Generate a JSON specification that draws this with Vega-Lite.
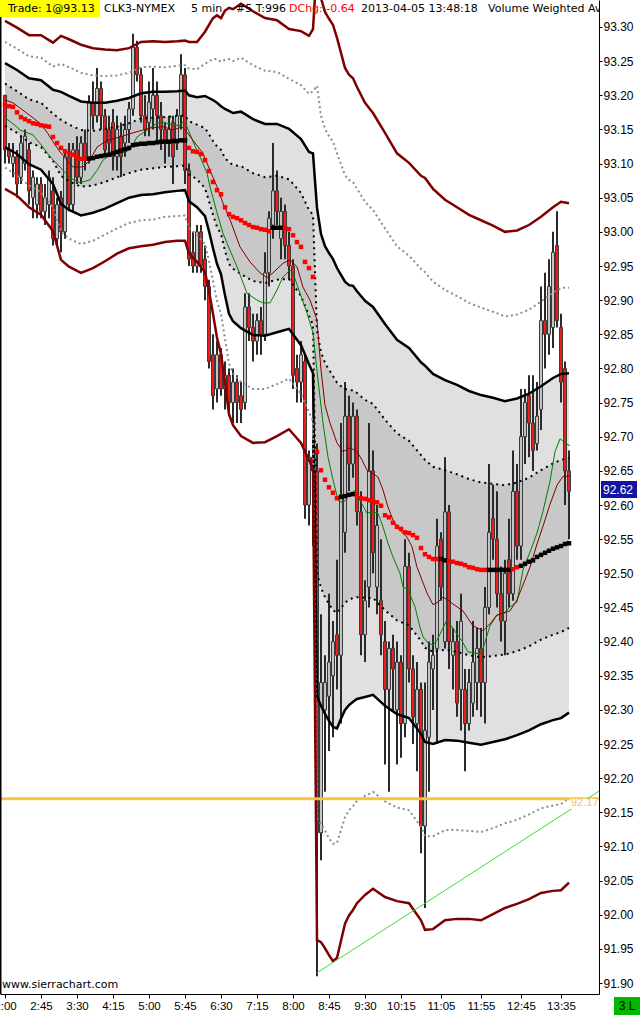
{
"$schema":"https://vega.github.io/schema/vega-lite/v6.json",
"width":599,"height":994,
"autosize":{"type":"none"},
"padding":{"left":0,"top":0,"right":41,"bottom":21},
"background":"#ffffff",
"config":{"view":{"stroke":null},
 "axisY":{"grid":false,"tickSize":3,"tickColor":"#000000","domainColor":"#000000","labelFont":"Liberation Sans","labelFontSize":12,"labelColor":"#000000","labelPadding":1,"labelOverlap":false,"labelFlush":false,"labelBound":false}},
"datasets":{
"bars":[
{"i":0,"o":93.20,"h":93.20,"l":93.10,"c":93.12,"v":93.186,"k":"r"},
{"i":1,"o":93.12,"h":93.13,"l":93.10,"c":93.11,"v":93.184,"k":"r"},
{"i":2,"o":93.10,"h":93.13,"l":93.08,"c":93.11,"v":93.183,"k":"r"},
{"i":3,"o":93.11,"h":93.12,"l":93.05,"c":93.07,"v":93.175,"k":"r"},
{"i":4,"o":93.08,"h":93.14,"l":93.07,"c":93.13,"v":93.168,"k":"r"},
{"i":5,"o":93.10,"h":93.15,"l":93.09,"c":93.14,"v":93.165,"k":"r"},
{"i":6,"o":93.12,"h":93.13,"l":93.04,"c":93.06,"v":93.162,"k":"r"},
{"i":7,"o":93.05,"h":93.09,"l":93.02,"c":93.08,"v":93.159,"k":"r"},
{"i":8,"o":93.04,"h":93.08,"l":93.02,"c":93.07,"v":93.158,"k":"r"},
{"i":9,"o":93.07,"h":93.08,"l":93.02,"c":93.03,"v":93.156,"k":"r"},
{"i":10,"o":93.03,"h":93.07,"l":93.01,"c":93.05,"v":93.155,"k":"r"},
{"i":11,"o":93.04,"h":93.09,"l":93.02,"c":93.08,"v":93.154,"k":"r"},
{"i":12,"o":93.06,"h":93.08,"l":92.98,"c":92.99,"v":93.139,"k":"r"},
{"i":13,"o":92.99,"h":93.05,"l":92.98,"c":93.04,"v":93.130,"k":"r"},
{"i":14,"o":93.05,"h":93.06,"l":92.97,"c":93.00,"v":93.123,"k":"r"},
{"i":15,"o":93.00,"h":93.12,"l":92.99,"c":93.11,"v":93.118,"k":"r"},
{"i":16,"o":93.11,"h":93.13,"l":93.03,"c":93.04,"v":93.115,"k":"r"},
{"i":17,"o":93.04,"h":93.13,"l":93.03,"c":93.12,"v":93.113,"k":"r"},
{"i":18,"o":93.12,"h":93.14,"l":93.07,"c":93.08,"v":93.108,"k":"r"},
{"i":19,"o":93.08,"h":93.14,"l":93.07,"c":93.13,"v":93.107,"k":"r"},
{"i":20,"o":93.13,"h":93.15,"l":93.09,"c":93.11,"v":93.107,"k":"r"},
{"i":21,"o":93.11,"h":93.20,"l":93.10,"c":93.19,"v":93.107,"k":"b"},
{"i":22,"o":93.19,"h":93.22,"l":93.15,"c":93.17,"v":93.108,"k":"b"},
{"i":23,"o":93.17,"h":93.24,"l":93.16,"c":93.21,"v":93.110,"k":"b"},
{"i":24,"o":93.21,"h":93.22,"l":93.15,"c":93.17,"v":93.111,"k":"b"},
{"i":25,"o":93.17,"h":93.18,"l":93.11,"c":93.12,"v":93.112,"k":"b"},
{"i":26,"o":93.15,"h":93.17,"l":93.11,"c":93.13,"v":93.113,"k":"b"},
{"i":27,"o":93.16,"h":93.18,"l":93.09,"c":93.11,"v":93.115,"k":"b"},
{"i":28,"o":93.11,"h":93.17,"l":93.09,"c":93.15,"v":93.117,"k":"b"},
{"i":29,"o":93.14,"h":93.16,"l":93.08,"c":93.11,"v":93.119,"k":"b"},
{"i":30,"o":93.13,"h":93.17,"l":93.11,"c":93.15,"v":93.121,"k":"b"},
{"i":31,"o":93.15,"h":93.19,"l":93.13,"c":93.18,"v":93.123,"k":"b"},
{"i":32,"o":93.18,"h":93.29,"l":93.17,"c":93.27,"v":93.127,"k":"b"},
{"i":33,"o":93.27,"h":93.28,"l":93.22,"c":93.23,"v":93.128,"k":"b"},
{"i":34,"o":93.23,"h":93.24,"l":93.16,"c":93.17,"v":93.129,"k":"b"},
{"i":35,"o":93.17,"h":93.20,"l":93.14,"c":93.15,"v":93.129,"k":"b"},
{"i":36,"o":93.16,"h":93.22,"l":93.14,"c":93.19,"v":93.130,"k":"b"},
{"i":37,"o":93.18,"h":93.24,"l":93.15,"c":93.20,"v":93.130,"k":"b"},
{"i":38,"o":93.20,"h":93.22,"l":93.13,"c":93.17,"v":93.131,"k":"b"},
{"i":39,"o":93.17,"h":93.19,"l":93.12,"c":93.15,"v":93.132,"k":"b"},
{"i":40,"o":93.15,"h":93.16,"l":93.10,"c":93.13,"v":93.132,"k":"b"},
{"i":41,"o":93.13,"h":93.17,"l":93.11,"c":93.15,"v":93.132,"k":"b"},
{"i":42,"o":93.16,"h":93.17,"l":93.07,"c":93.11,"v":93.133,"k":"b"},
{"i":43,"o":93.13,"h":93.18,"l":93.12,"c":93.17,"v":93.133,"k":"b"},
{"i":44,"o":93.17,"h":93.26,"l":93.15,"c":93.23,"v":93.134,"k":"b"},
{"i":45,"o":93.23,"h":93.24,"l":93.07,"c":93.09,"v":93.134,"k":"b"},
{"i":46,"o":93.09,"h":93.10,"l":92.95,"c":92.96,"v":93.123,"k":"r"},
{"i":47,"o":92.97,"h":93.00,"l":92.94,"c":92.95,"v":93.118,"k":"r"},
{"i":48,"o":92.95,"h":93.01,"l":92.94,"c":93.00,"v":93.117,"k":"r"},
{"i":49,"o":93.00,"h":93.01,"l":92.94,"c":92.95,"v":93.114,"k":"r"},
{"i":50,"o":92.96,"h":92.98,"l":92.90,"c":92.92,"v":93.105,"k":"r"},
{"i":51,"o":92.92,"h":92.93,"l":92.80,"c":92.81,"v":93.089,"k":"r"},
{"i":52,"o":92.82,"h":92.85,"l":92.74,"c":92.76,"v":93.073,"k":"r"},
{"i":53,"o":92.77,"h":92.84,"l":92.75,"c":92.82,"v":93.061,"k":"r"},
{"i":54,"o":92.82,"h":92.83,"l":92.76,"c":92.77,"v":93.055,"k":"r"},
{"i":55,"o":92.77,"h":92.81,"l":92.74,"c":92.79,"v":93.036,"k":"r"},
{"i":56,"o":92.79,"h":92.80,"l":92.73,"c":92.75,"v":93.026,"k":"r"},
{"i":57,"o":92.75,"h":92.80,"l":92.72,"c":92.78,"v":93.022,"k":"r"},
{"i":58,"o":92.78,"h":92.79,"l":92.72,"c":92.75,"v":93.020,"k":"r"},
{"i":59,"o":92.76,"h":92.78,"l":92.72,"c":92.74,"v":93.017,"k":"r"},
{"i":60,"o":92.75,"h":92.91,"l":92.74,"c":92.89,"v":93.013,"k":"r"},
{"i":61,"o":92.89,"h":92.91,"l":92.84,"c":92.86,"v":93.010,"k":"r"},
{"i":62,"o":92.86,"h":92.88,"l":92.81,"c":92.84,"v":93.007,"k":"r"},
{"i":63,"o":92.84,"h":92.88,"l":92.82,"c":92.87,"v":93.006,"k":"r"},
{"i":64,"o":92.87,"h":92.89,"l":92.82,"c":92.85,"v":93.004,"k":"r"},
{"i":65,"o":92.85,"h":92.97,"l":92.84,"c":92.94,"v":93.003,"k":"r"},
{"i":66,"o":92.94,"h":93.03,"l":92.92,"c":93.02,"v":93.001,"k":"r"},
{"i":67,"o":93.01,"h":93.13,"l":92.99,"c":93.06,"v":93.006,"k":"b"},
{"i":68,"o":93.06,"h":93.09,"l":93.01,"c":93.03,"v":93.006,"k":"b"},
{"i":69,"o":92.99,"h":93.05,"l":92.96,"c":93.03,"v":93.006,"k":"b"},
{"i":70,"o":93.03,"h":93.04,"l":92.96,"c":92.98,"v":93.006,"k":"r"},
{"i":71,"o":92.98,"h":93.00,"l":92.93,"c":92.95,"v":93.004,"k":"r"},
{"i":72,"o":92.95,"h":92.96,"l":92.77,"c":92.79,"v":92.995,"k":"r"},
{"i":73,"o":92.80,"h":92.82,"l":92.75,"c":92.78,"v":92.985,"k":"r"},
{"i":74,"o":92.78,"h":92.84,"l":92.75,"c":92.82,"v":92.978,"k":"r"},
{"i":75,"o":92.81,"h":92.82,"l":92.58,"c":92.60,"v":92.956,"k":"r"},
{"i":76,"o":92.60,"h":92.68,"l":92.57,"c":92.67,"v":92.947,"k":"r"},
{"i":77,"o":92.67,"h":92.70,"l":92.54,"c":92.65,"v":92.934,"k":"r"},
{"i":78,"o":92.65,"h":92.69,"l":91.91,"c":92.12,"v":92.678,"k":"r"},
{"i":79,"o":92.12,"h":92.44,"l":92.08,"c":92.34,"v":92.651,"k":"r"},
{"i":80,"o":92.30,"h":92.38,"l":92.18,"c":92.34,"v":92.637,"k":"r"},
{"i":81,"o":92.32,"h":92.47,"l":92.24,"c":92.37,"v":92.626,"k":"r"},
{"i":82,"o":92.35,"h":92.43,"l":92.26,"c":92.40,"v":92.618,"k":"r"},
{"i":83,"o":92.41,"h":92.52,"l":92.33,"c":92.38,"v":92.610,"k":"r"},
{"i":84,"o":92.38,"h":92.72,"l":92.28,"c":92.61,"v":92.612,"k":"b"},
{"i":85,"o":92.56,"h":92.78,"l":92.53,"c":92.73,"v":92.613,"k":"b"},
{"i":86,"o":92.73,"h":92.76,"l":92.62,"c":92.66,"v":92.615,"k":"b"},
{"i":87,"o":92.66,"h":92.75,"l":92.64,"c":92.73,"v":92.616,"k":"b"},
{"i":88,"o":92.73,"h":92.74,"l":92.57,"c":92.59,"v":92.615,"k":"r"},
{"i":89,"o":92.59,"h":92.62,"l":92.38,"c":92.41,"v":92.610,"k":"r"},
{"i":90,"o":92.41,"h":92.49,"l":92.37,"c":92.46,"v":92.609,"k":"r"},
{"i":91,"o":92.48,"h":92.72,"l":92.45,"c":92.65,"v":92.607,"k":"r"},
{"i":92,"o":92.65,"h":92.68,"l":92.50,"c":92.53,"v":92.606,"k":"r"},
{"i":93,"o":92.48,"h":92.60,"l":92.44,"c":92.57,"v":92.604,"k":"r"},
{"i":94,"o":92.46,"h":92.55,"l":92.38,"c":92.41,"v":92.599,"k":"r"},
{"i":95,"o":92.40,"h":92.43,"l":92.22,"c":92.33,"v":92.585,"k":"r"},
{"i":96,"o":92.33,"h":92.40,"l":92.18,"c":92.39,"v":92.582,"k":"r"},
{"i":97,"o":92.39,"h":92.41,"l":92.30,"c":92.36,"v":92.574,"k":"r"},
{"i":98,"o":92.30,"h":92.40,"l":92.22,"c":92.37,"v":92.568,"k":"r"},
{"i":99,"o":92.37,"h":92.38,"l":92.23,"c":92.28,"v":92.565,"k":"r"},
{"i":100,"o":92.28,"h":92.55,"l":92.26,"c":92.51,"v":92.560,"k":"r"},
{"i":101,"o":92.51,"h":92.53,"l":92.34,"c":92.36,"v":92.559,"k":"r"},
{"i":102,"o":92.36,"h":92.38,"l":92.25,"c":92.29,"v":92.556,"k":"r"},
{"i":103,"o":92.28,"h":92.37,"l":92.21,"c":92.33,"v":92.552,"k":"r"},
{"i":104,"o":92.33,"h":92.34,"l":92.09,"c":92.13,"v":92.537,"k":"r"},
{"i":105,"o":92.13,"h":92.34,"l":92.01,"c":92.27,"v":92.528,"k":"r"},
{"i":106,"o":92.26,"h":92.40,"l":92.18,"c":92.37,"v":92.524,"k":"r"},
{"i":107,"o":92.36,"h":92.41,"l":92.30,"c":92.38,"v":92.521,"k":"r"},
{"i":108,"o":92.39,"h":92.58,"l":92.25,"c":92.54,"v":92.521,"k":"r"},
{"i":109,"o":92.55,"h":92.56,"l":92.46,"c":92.48,"v":92.521,"k":"b"},
{"i":110,"o":92.40,"h":92.67,"l":92.39,"c":92.59,"v":92.519,"k":"b"},
{"i":111,"o":92.59,"h":92.60,"l":92.36,"c":92.40,"v":92.518,"k":"r"},
{"i":112,"o":92.38,"h":92.42,"l":92.33,"c":92.40,"v":92.517,"k":"r"},
{"i":113,"o":92.40,"h":92.43,"l":92.29,"c":92.31,"v":92.515,"k":"r"},
{"i":114,"o":92.33,"h":92.47,"l":92.27,"c":92.43,"v":92.514,"k":"r"},
{"i":115,"o":92.33,"h":92.36,"l":92.21,"c":92.28,"v":92.512,"k":"r"},
{"i":116,"o":92.28,"h":92.36,"l":92.27,"c":92.34,"v":92.509,"k":"r"},
{"i":117,"o":92.31,"h":92.43,"l":92.29,"c":92.37,"v":92.508,"k":"r"},
{"i":118,"o":92.34,"h":92.42,"l":92.30,"c":92.39,"v":92.506,"k":"r"},
{"i":119,"o":92.39,"h":92.42,"l":92.29,"c":92.34,"v":92.505,"k":"r"},
{"i":120,"o":92.34,"h":92.48,"l":92.28,"c":92.45,"v":92.505,"k":"r"},
{"i":121,"o":92.45,"h":92.66,"l":92.44,"c":92.56,"v":92.505,"k":"b"},
{"i":122,"o":92.58,"h":92.63,"l":92.52,"c":92.55,"v":92.505,"k":"b"},
{"i":123,"o":92.55,"h":92.62,"l":92.45,"c":92.47,"v":92.505,"k":"b"},
{"i":124,"o":92.47,"h":92.51,"l":92.40,"c":92.43,"v":92.505,"k":"b"},
{"i":125,"o":92.43,"h":92.52,"l":92.38,"c":92.50,"v":92.505,"k":"b"},
{"i":126,"o":92.52,"h":92.58,"l":92.45,"c":92.47,"v":92.505,"k":"b"},
{"i":127,"o":92.47,"h":92.68,"l":92.46,"c":92.62,"v":92.506,"k":"r"},
{"i":128,"o":92.62,"h":92.66,"l":92.52,"c":92.54,"v":92.509,"k":"r"},
{"i":129,"o":92.54,"h":92.77,"l":92.52,"c":92.70,"v":92.511,"k":"b"},
{"i":130,"o":92.70,"h":92.77,"l":92.66,"c":92.75,"v":92.514,"k":"b"},
{"i":131,"o":92.76,"h":92.79,"l":92.67,"c":92.72,"v":92.517,"k":"b"},
{"i":132,"o":92.72,"h":92.79,"l":92.65,"c":92.68,"v":92.519,"k":"b"},
{"i":133,"o":92.69,"h":92.78,"l":92.68,"c":92.73,"v":92.524,"k":"b"},
{"i":134,"o":92.74,"h":92.92,"l":92.71,"c":92.87,"v":92.527,"k":"b"},
{"i":135,"o":92.87,"h":92.94,"l":92.80,"c":92.85,"v":92.530,"k":"b"},
{"i":136,"o":92.85,"h":92.96,"l":92.82,"c":92.92,"v":92.533,"k":"b"},
{"i":137,"o":92.86,"h":93.00,"l":92.83,"c":92.97,"v":92.536,"k":"b"},
{"i":138,"o":92.98,"h":93.03,"l":92.86,"c":92.87,"v":92.538,"k":"b"},
{"i":139,"o":92.86,"h":92.88,"l":92.75,"c":92.78,"v":92.540,"k":"b"},
{"i":140,"o":92.80,"h":92.81,"l":92.60,"c":92.65,"v":92.543,"k":"b"},
{"i":141,"o":92.65,"h":92.68,"l":92.55,"c":92.62,"v":92.544,"k":"b"}
],
"bands":[
{"i":0,"u4":93.309,"u3":93.278,"u2":93.247,"u1":93.217,"l1":93.155,"l2":93.124,"l3":93.094,"l4":93.063},
{"i":3,"u4":93.299,"u3":93.268,"u2":93.237,"u1":93.206,"l1":93.145,"l2":93.114,"l3":93.083,"l4":93.053},
{"i":6,"u4":93.288,"u3":93.257,"u2":93.225,"u1":93.194,"l1":93.131,"l2":93.099,"l3":93.068,"l4":93.036},
{"i":9,"u4":93.288,"u3":93.255,"u2":93.222,"u1":93.189,"l1":93.124,"l2":93.091,"l3":93.058,"l4":93.025},
{"i":12,"u4":93.277,"u3":93.242,"u2":93.208,"u1":93.173,"l1":93.104,"l2":93.070,"l3":93.036,"l4":93.001},
{"i":14,"u4":93.287,"u3":93.246,"u2":93.205,"u1":93.164,"l1":93.082,"l2":93.041,"l3":93.000,"l4":92.959},
{"i":16,"u4":93.282,"u3":93.241,"u2":93.199,"u1":93.157,"l1":93.074,"l2":93.032,"l3":92.990,"l4":92.949},
{"i":19,"u4":93.274,"u3":93.233,"u2":93.191,"u1":93.149,"l1":93.066,"l2":93.024,"l3":92.982,"l4":92.940},
{"i":22,"u4":93.269,"u3":93.229,"u2":93.189,"u1":93.148,"l1":93.068,"l2":93.028,"l3":92.987,"l4":92.947},
{"i":25,"u4":93.267,"u3":93.228,"u2":93.189,"u1":93.151,"l1":93.073,"l2":93.034,"l3":92.996,"l4":92.957},
{"i":28,"u4":93.266,"u3":93.229,"u2":93.192,"u1":93.154,"l1":93.080,"l2":93.042,"l3":93.005,"l4":92.968},
{"i":31,"u4":93.269,"u3":93.233,"u2":93.196,"u1":93.159,"l1":93.086,"l2":93.050,"l3":93.013,"l4":92.976},
{"i":34,"u4":93.278,"u3":93.241,"u2":93.203,"u1":93.166,"l1":93.091,"l2":93.054,"l3":93.017,"l4":92.979},
{"i":37,"u4":93.279,"u3":93.242,"u2":93.205,"u1":93.167,"l1":93.093,"l2":93.055,"l3":93.018,"l4":92.981},
{"i":40,"u4":93.278,"u3":93.241,"u2":93.205,"u1":93.168,"l1":93.095,"l2":93.058,"l3":93.022,"l4":92.985},
{"i":43,"u4":93.279,"u3":93.243,"u2":93.206,"u1":93.170,"l1":93.096,"l2":93.060,"l3":93.023,"l4":92.987},
{"i":45,"u4":93.280,"u3":93.244,"u2":93.207,"u1":93.170,"l1":93.097,"l2":93.061,"l3":93.024,"l4":92.987},
{"i":46,"u4":93.278,"u3":93.239,"u2":93.200,"u1":93.162,"l1":93.084,"l2":93.045,"l3":93.006,"l4":92.968},
{"i":48,"u4":93.278,"u3":93.238,"u2":93.197,"u1":93.157,"l1":93.077,"l2":93.036,"l3":92.996,"l4":92.956},
{"i":50,"u4":93.293,"u3":93.246,"u2":93.199,"u1":93.152,"l1":93.064,"l2":93.023,"l3":92.982,"l4":92.941},
{"i":51,"u4":93.303,"u3":93.250,"u2":93.196,"u1":93.143,"l1":93.045,"l2":93.001,"l3":92.957,"l4":92.913},
{"i":52,"u4":93.313,"u3":93.253,"u2":93.193,"u1":93.133,"l1":93.025,"l2":92.976,"l3":92.928,"l4":92.880},
{"i":53,"u4":93.317,"u3":93.253,"u2":93.189,"u1":93.125,"l1":93.007,"l2":92.953,"l3":92.899,"l4":92.845},
{"i":54,"u4":93.313,"u3":93.249,"u2":93.184,"u1":93.120,"l1":92.997,"l2":92.938,"l3":92.880,"l4":92.821},
{"i":55,"u4":93.324,"u3":93.252,"u2":93.180,"u1":93.108,"l1":92.972,"l2":92.907,"l3":92.843,"l4":92.779},
{"i":56,"u4":93.328,"u3":93.253,"u2":93.177,"u1":93.102,"l1":92.953,"l2":92.880,"l3":92.807,"l4":92.733},
{"i":57,"u4":93.326,"u3":93.250,"u2":93.174,"u1":93.098,"l1":92.946,"l2":92.869,"l3":92.793,"l4":92.717},
{"i":59,"u4":93.334,"u3":93.255,"u2":93.176,"u1":93.096,"l1":92.938,"l2":92.859,"l3":92.780,"l4":92.701},
{"i":62,"u4":93.323,"u3":93.244,"u2":93.165,"u1":93.086,"l1":92.928,"l2":92.849,"l3":92.770,"l4":92.691},
{"i":65,"u4":93.313,"u3":93.236,"u2":93.158,"u1":93.080,"l1":92.925,"l2":92.848,"l3":92.770,"l4":92.692},
{"i":68,"u4":93.310,"u3":93.234,"u2":93.158,"u1":93.082,"l1":92.930,"l2":92.853,"l3":92.777,"l4":92.701},
{"i":71,"u4":93.297,"u3":93.224,"u2":93.151,"u1":93.077,"l1":92.931,"l2":92.858,"l3":92.785,"l4":92.711},
{"i":74,"u4":93.294,"u3":93.215,"u2":93.136,"u1":93.057,"l1":92.906,"l2":92.834,"l3":92.763,"l4":92.691},
{"i":76,"u4":93.287,"u3":93.202,"u2":93.117,"u1":93.032,"l1":92.877,"l2":92.806,"l3":92.736,"l4":92.666},
{"i":77,"u4":93.297,"u3":93.206,"u2":93.115,"u1":93.025,"l1":92.864,"l2":92.793,"l3":92.723,"l4":92.653},
{"i":78,"u4":93.392,"u3":93.214,"u2":93.035,"u1":92.856,"l1":92.499,"l2":92.320,"l3":92.142,"l4":91.963},
{"i":79,"u4":93.342,"u3":93.170,"u2":92.997,"u1":92.824,"l1":92.479,"l2":92.306,"l3":92.133,"l4":91.960},
{"i":80,"u4":93.322,"u3":93.151,"u2":92.979,"u1":92.808,"l1":92.465,"l2":92.294,"l3":92.123,"l4":91.951},
{"i":81,"u4":93.312,"u3":93.140,"u2":92.969,"u1":92.798,"l1":92.455,"l2":92.284,"l3":92.112,"l4":91.941},
{"i":82,"u4":93.303,"u3":93.132,"u2":92.960,"u1":92.789,"l1":92.446,"l2":92.275,"l3":92.104,"l4":91.932},
{"i":83,"u4":93.284,"u3":93.115,"u2":92.947,"u1":92.779,"l1":92.442,"l2":92.273,"l3":92.105,"l4":91.937},
{"i":84,"u4":93.262,"u3":93.099,"u2":92.937,"u1":92.774,"l1":92.449,"l2":92.287,"l3":92.124,"l4":91.962},
{"i":85,"u4":93.240,"u3":93.083,"u2":92.927,"u1":92.770,"l1":92.457,"l2":92.300,"l3":92.143,"l4":91.987},
{"i":86,"u4":93.230,"u3":93.076,"u2":92.922,"u1":92.768,"l1":92.461,"l2":92.307,"l3":92.153,"l4":91.999},
{"i":87,"u4":93.225,"u3":93.073,"u2":92.921,"u1":92.768,"l1":92.464,"l2":92.312,"l3":92.159,"l4":92.007},
{"i":88,"u4":93.212,"u3":93.063,"u2":92.913,"u1":92.764,"l1":92.465,"l2":92.316,"l3":92.167,"l4":92.017},
{"i":90,"u4":93.189,"u3":93.044,"u2":92.899,"u1":92.754,"l1":92.464,"l2":92.319,"l3":92.174,"l4":92.029},
{"i":92,"u4":93.174,"u3":93.032,"u2":92.890,"u1":92.748,"l1":92.464,"l2":92.322,"l3":92.180,"l4":92.038},
{"i":95,"u4":93.145,"u3":93.005,"u2":92.865,"u1":92.725,"l1":92.446,"l2":92.306,"l3":92.166,"l4":92.026},
{"i":98,"u4":93.115,"u3":92.979,"u2":92.842,"u1":92.705,"l1":92.431,"l2":92.294,"l3":92.157,"l4":92.020},
{"i":101,"u4":93.101,"u3":92.965,"u2":92.830,"u1":92.694,"l1":92.424,"l2":92.288,"l3":92.153,"l4":92.017},
{"i":104,"u4":93.082,"u3":92.946,"u2":92.809,"u1":92.673,"l1":92.401,"l2":92.265,"l3":92.129,"l4":91.992},
{"i":105,"u4":93.079,"u3":92.941,"u2":92.804,"u1":92.666,"l1":92.391,"l2":92.253,"l3":92.115,"l4":91.978},
{"i":107,"u4":93.063,"u3":92.927,"u2":92.792,"u1":92.656,"l1":92.385,"l2":92.250,"l3":92.115,"l4":91.979},
{"i":110,"u4":93.047,"u3":92.915,"u2":92.783,"u1":92.651,"l1":92.388,"l2":92.256,"l3":92.124,"l4":91.992},
{"i":113,"u4":93.036,"u3":92.906,"u2":92.776,"u1":92.645,"l1":92.385,"l2":92.255,"l3":92.124,"l4":91.994},
{"i":116,"u4":93.025,"u3":92.896,"u2":92.767,"u1":92.638,"l1":92.380,"l2":92.252,"l3":92.123,"l4":91.994},
{"i":119,"u4":93.017,"u3":92.889,"u2":92.761,"u1":92.633,"l1":92.377,"l2":92.249,"l3":92.121,"l4":91.992},
{"i":122,"u4":93.009,"u3":92.883,"u2":92.757,"u1":92.631,"l1":92.379,"l2":92.253,"l3":92.127,"l4":92.001},
{"i":125,"u4":93.000,"u3":92.876,"u2":92.752,"u1":92.629,"l1":92.381,"l2":92.257,"l3":92.134,"l4":92.010},
{"i":128,"u4":93.002,"u3":92.879,"u2":92.756,"u1":92.633,"l1":92.386,"l2":92.263,"l3":92.139,"l4":92.016},
{"i":131,"u4":93.010,"u3":92.886,"u2":92.763,"u1":92.640,"l1":92.393,"l2":92.270,"l3":92.147,"l4":92.023},
{"i":134,"u4":93.022,"u3":92.898,"u2":92.774,"u1":92.651,"l1":92.403,"l2":92.279,"l3":92.156,"l4":92.032},
{"i":137,"u4":93.036,"u3":92.911,"u2":92.786,"u1":92.661,"l1":92.410,"l2":92.285,"l3":92.160,"l4":92.035},
{"i":139,"u4":93.044,"u3":92.918,"u2":92.792,"u1":92.666,"l1":92.414,"l2":92.288,"l3":92.162,"l4":92.036},
{"i":141,"u4":93.042,"u3":92.918,"u2":92.793,"u1":92.669,"l1":92.420,"l2":92.296,"l3":92.171,"l4":92.047}
],
"mag":[
{"i":0,"p":93.167},{"i":2.5,"p":93.156},{"i":3.75,"p":93.149},{"i":7,"p":93.142},{"i":9.5,"p":93.124},{"i":11.25,"p":93.110},{"i":13.75,"p":93.095},{"i":16.25,"p":93.079},{"i":18.75,"p":93.072},{"i":21.25,"p":93.076},{"i":23,"p":93.090},{"i":24.5,"p":93.105},{"i":26.25,"p":93.113},{"i":28.75,"p":93.115},{"i":31.25,"p":93.120},{"i":33,"p":93.139},{"i":35.5,"p":93.149},{"i":38,"p":93.159},{"i":39.5,"p":93.161},{"i":42,"p":93.156},{"i":43.75,"p":93.156},{"i":44.5,"p":93.161},{"i":45.5,"p":93.154},{"i":47,"p":93.132},{"i":48.75,"p":93.110},{"i":50.5,"p":93.086},{"i":51.25,"p":93.066},{"i":53,"p":93.028},{"i":54.5,"p":92.998},{"i":56.25,"p":92.973},{"i":58,"p":92.949},{"i":60.5,"p":92.910},{"i":63,"p":92.900},{"i":64.5,"p":92.896},{"i":66.25,"p":92.896},{"i":68,"p":92.915},{"i":69.5,"p":92.934},{"i":71.25,"p":92.944},{"i":72,"p":92.940},{"i":73.75,"p":92.910},{"i":75.5,"p":92.881},{"i":77,"p":92.852},{"i":78.25,"p":92.783},{"i":79.5,"p":92.720},{"i":80.75,"p":92.670},{"i":82,"p":92.637},{"i":83.25,"p":92.607},{"i":84.5,"p":92.603},{"i":86.25,"p":92.615},{"i":87.5,"p":92.622},{"i":88.75,"p":92.607},{"i":90.5,"p":92.588},{"i":91.75,"p":92.590},{"i":93.25,"p":92.588},{"i":94.5,"p":92.568},{"i":95.75,"p":92.544},{"i":97,"p":92.524},{"i":98.75,"p":92.500},{"i":99.5,"p":92.480},{"i":100.75,"p":92.476},{"i":102.5,"p":92.451},{"i":103.75,"p":92.421},{"i":104.5,"p":92.407},{"i":105.75,"p":92.398},{"i":107,"p":92.395},{"i":108,"p":92.402},{"i":110.5,"p":92.432},{"i":112.5,"p":92.415},{"i":114.25,"p":92.401},{"i":115.75,"p":92.385},{"i":118.75,"p":92.382},{"i":119.5,"p":92.390},{"i":121.25,"p":92.423},{"i":123,"p":92.439},{"i":124.5,"p":92.439},{"i":126.25,"p":92.451},{"i":128,"p":92.458},{"i":129.5,"p":92.505},{"i":131.25,"p":92.531},{"i":133,"p":92.559},{"i":134.5,"p":92.591},{"i":136.25,"p":92.635},{"i":137.5,"p":92.678},{"i":138.75,"p":92.697},{"i":140.5,"p":92.689},{"i":141.25,"p":92.687}
],
"mar":[
{"i":0,"p":93.193},{"i":2,"p":93.189},{"i":4.5,"p":93.178},{"i":7,"p":93.167},{"i":8.75,"p":93.159},{"i":10.5,"p":93.146},{"i":12,"p":93.132},{"i":13.75,"p":93.117},{"i":15.5,"p":93.105},{"i":17,"p":93.095},{"i":19.5,"p":93.095},{"i":21.25,"p":93.105},{"i":23,"p":93.124},{"i":25.5,"p":93.134},{"i":28.75,"p":93.139},{"i":32,"p":93.145},{"i":36.25,"p":93.152},{"i":39.5,"p":93.154},{"i":42,"p":93.149},{"i":44.25,"p":93.154},{"i":45.5,"p":93.146},{"i":47,"p":93.134},{"i":49.5,"p":93.115},{"i":51.25,"p":93.090},{"i":53,"p":93.066},{"i":54.5,"p":93.042},{"i":56.25,"p":93.018},{"i":58.75,"p":92.978},{"i":61.25,"p":92.956},{"i":63.75,"p":92.940},{"i":65.5,"p":92.933},{"i":67,"p":92.940},{"i":69.5,"p":92.954},{"i":71.25,"p":92.959},{"i":73,"p":92.949},{"i":74.5,"p":92.919},{"i":76.25,"p":92.900},{"i":78,"p":92.871},{"i":79,"p":92.798},{"i":80,"p":92.746},{"i":81.25,"p":92.720},{"i":83,"p":92.691},{"i":84.5,"p":92.678},{"i":86.25,"p":92.684},{"i":88,"p":92.678},{"i":89.25,"p":92.666},{"i":90.5,"p":92.651},{"i":91.75,"p":92.647},{"i":93.25,"p":92.641},{"i":94.5,"p":92.622},{"i":95.75,"p":92.597},{"i":97,"p":92.578},{"i":98.75,"p":92.563},{"i":100.5,"p":92.553},{"i":101.75,"p":92.539},{"i":103,"p":92.509},{"i":104.25,"p":92.490},{"i":105.5,"p":92.471},{"i":107,"p":92.454},{"i":108.25,"p":92.458},{"i":109.5,"p":92.465},{"i":110.75,"p":92.461},{"i":112,"p":92.455},{"i":114.5,"p":92.445},{"i":117,"p":92.423},{"i":119.5,"p":92.416},{"i":121.25,"p":92.426},{"i":123,"p":92.439},{"i":124.5,"p":92.442},{"i":126.25,"p":92.445},{"i":128,"p":92.461},{"i":129.5,"p":92.483},{"i":131.25,"p":92.509},{"i":133,"p":92.543},{"i":134.5,"p":92.569},{"i":136.25,"p":92.601},{"i":138,"p":92.629},{"i":139.5,"p":92.642},{"i":141.25,"p":92.642}
]
},
"encoding":{"x":{"field":"i","type":"quantitative","scale":{"domain":[-1.25,148.5],"nice":false,"zero":false,"padding":0},
 "axis":{"values":[0,9,18,27,36,45,54,63,72,81,90,99,109,119,129,139],
 "labelExpr":"['2:00','2:45','3:30','4:15','5:00','5:45','6:30','7:15','8:00','8:45','9:30','10:15','11:05','11:55','12:45','13:35'][indexof([0,9,18,27,36,45,54,63,72,81,90,99,109,119,129,139], datum.value)]",
 "title":null,"grid":false,"tickSize":4,"tickColor":"#000000","domainColor":"#000000","labelFont":"Liberation Sans","labelFontSize":11.5,"labelColor":"#000000","labelPadding":2,"labelOverlap":false,"labelFlush":false,"labelBound":false}}},
"layer":[
{"data":{"name":"bands"},"mark":{"type":"area","color":"#e0e0e0","clip":true},
 "encoding":{"y":{"field":"u2","type":"quantitative","scale":{"domain":[91.884,93.3395],"nice":false,"zero":false},"axis":{"orient":"right","title":null,"format":".2f","values":[91.9,91.95,92,92.05,92.1,92.15,92.2,92.25,92.3,92.35,92.4,92.45,92.5,92.55,92.6,92.65,92.7,92.75,92.8,92.85,92.9,92.95,93,93.05,93.1,93.15,93.2,93.25,93.3]}},
  "y2":{"field":"l2"}}},
{"data":{"name":"bands"},"mark":{"type":"area","color":"#c8c8c8","clip":true},
 "encoding":{"y":{"field":"u1","type":"quantitative","scale":{"domain":[91.884,93.3395],"nice":false,"zero":false},"axis":{"orient":"right","title":null,"format":".2f","values":[91.9,91.95,92,92.05,92.1,92.15,92.2,92.25,92.3,92.35,92.4,92.45,92.5,92.55,92.6,92.65,92.7,92.75,92.8,92.85,92.9,92.95,93,93.05,93.1,93.15,93.2,93.25,93.3]}},"y2":{"field":"l1"}}},
{"data":{"name":"bars"},"mark":{"type":"rule","color":"#2a2a2a","strokeWidth":2},
 "encoding":{"y":{"field":"l","type":"quantitative","scale":{"domain":[91.884,93.3395],"nice":false,"zero":false},"axis":{"orient":"right","title":null,"format":".2f","values":[91.9,91.95,92,92.05,92.1,92.15,92.2,92.25,92.3,92.35,92.4,92.45,92.5,92.55,92.6,92.65,92.7,92.75,92.8,92.85,92.9,92.95,93,93.05,93.1,93.15,93.2,93.25,93.3]}},"y2":{"field":"h"}}},
{"data":{"name":"bars"},"mark":{"type":"bar","size":3,"stroke":"#3a3a3a","strokeWidth":1},
 "encoding":{"y":{"field":"o","type":"quantitative","scale":{"domain":[91.884,93.3395],"nice":false,"zero":false},"axis":{"orient":"right","title":null,"format":".2f","values":[91.9,91.95,92,92.05,92.1,92.15,92.2,92.25,92.3,92.35,92.4,92.45,92.5,92.55,92.6,92.65,92.7,92.75,92.8,92.85,92.9,92.95,93,93.05,93.1,93.15,93.2,93.25,93.3]}},"y2":{"field":"c"},
  "fill":{"condition":{"test":"datum.c >= datum.o","value":"#c4c4c4"},"value":"#f01c1c"}}},
{"data":{"name":"bands"},"transform":[{"fold":["u2","l2"],"as":["b","val"]}],"mark":{"type":"line","color":"#000000","strokeWidth":2.5,"clip":true},
 "encoding":{"y":{"field":"val","type":"quantitative","scale":{"domain":[91.884,93.3395],"nice":false,"zero":false},"axis":{"orient":"right","title":null,"format":".2f","values":[91.9,91.95,92,92.05,92.1,92.15,92.2,92.25,92.3,92.35,92.4,92.45,92.5,92.55,92.6,92.65,92.7,92.75,92.8,92.85,92.9,92.95,93,93.05,93.1,93.15,93.2,93.25,93.3]}},"detail":{"field":"b"}}},
{"data":{"name":"bands"},"transform":[{"fold":["u1","l1"],"as":["b","val"]}],"mark":{"type":"line","color":"#000000","strokeWidth":2,"strokeDash":[2,4],"clip":true},
 "encoding":{"y":{"field":"val","type":"quantitative","scale":{"domain":[91.884,93.3395],"nice":false,"zero":false},"axis":{"orient":"right","title":null,"format":".2f","values":[91.9,91.95,92,92.05,92.1,92.15,92.2,92.25,92.3,92.35,92.4,92.45,92.5,92.55,92.6,92.65,92.7,92.75,92.8,92.85,92.9,92.95,93,93.05,93.1,93.15,93.2,93.25,93.3]}},"detail":{"field":"b"}}},
{"data":{"name":"bands"},"transform":[{"fold":["u3","l3"],"as":["b","val"]}],"mark":{"type":"line","color":"#8c8c8c","strokeWidth":2,"strokeDash":[2,3],"clip":true},
 "encoding":{"y":{"field":"val","type":"quantitative","scale":{"domain":[91.884,93.3395],"nice":false,"zero":false},"axis":{"orient":"right","title":null,"format":".2f","values":[91.9,91.95,92,92.05,92.1,92.15,92.2,92.25,92.3,92.35,92.4,92.45,92.5,92.55,92.6,92.65,92.7,92.75,92.8,92.85,92.9,92.95,93,93.05,93.1,93.15,93.2,93.25,93.3]}},"detail":{"field":"b"}}},
{"data":{"name":"bands"},"transform":[{"fold":["u4","l4"],"as":["b","val"]}],"mark":{"type":"line","color":"#7f0000","strokeWidth":2.5,"clip":true},
 "encoding":{"y":{"field":"val","type":"quantitative","scale":{"domain":[91.884,93.3395],"nice":false,"zero":false},"axis":{"orient":"right","title":null,"format":".2f","values":[91.9,91.95,92,92.05,92.1,92.15,92.2,92.25,92.3,92.35,92.4,92.45,92.5,92.55,92.6,92.65,92.7,92.75,92.8,92.85,92.9,92.95,93,93.05,93.1,93.15,93.2,93.25,93.3]}},"detail":{"field":"b"}}},
{"data":{"name":"mag"},"mark":{"type":"line","color":"#008000","strokeWidth":1},
 "encoding":{"y":{"field":"p","type":"quantitative","scale":{"domain":[91.884,93.3395],"nice":false,"zero":false},"axis":{"orient":"right","title":null,"format":".2f","values":[91.9,91.95,92,92.05,92.1,92.15,92.2,92.25,92.3,92.35,92.4,92.45,92.5,92.55,92.6,92.65,92.7,92.75,92.8,92.85,92.9,92.95,93,93.05,93.1,93.15,93.2,93.25,93.3]}}}},
{"data":{"name":"mar"},"mark":{"type":"line","color":"#800000","strokeWidth":1},
 "encoding":{"y":{"field":"p","type":"quantitative","scale":{"domain":[91.884,93.3395],"nice":false,"zero":false},"axis":{"orient":"right","title":null,"format":".2f","values":[91.9,91.95,92,92.05,92.1,92.15,92.2,92.25,92.3,92.35,92.4,92.45,92.5,92.55,92.6,92.65,92.7,92.75,92.8,92.85,92.9,92.95,93,93.05,93.1,93.15,93.2,93.25,93.3]}}}},
{"data":{"name":"bars"},"mark":{"type":"square","size":20,"filled":true,"opacity":1},
 "encoding":{"y":{"field":"v","type":"quantitative","scale":{"domain":[91.884,93.3395],"nice":false,"zero":false},"axis":{"orient":"right","title":null,"format":".2f","values":[91.9,91.95,92,92.05,92.1,92.15,92.2,92.25,92.3,92.35,92.4,92.45,92.5,92.55,92.6,92.65,92.7,92.75,92.8,92.85,92.9,92.95,93,93.05,93.1,93.15,93.2,93.25,93.3]}},
  "color":{"field":"k","type":"nominal","scale":{"domain":["b","r"],"range":["#000000","#ff0000"]},"legend":null}}},
{"data":{"values":[{"i":-1.25,"i2":148.5,"p":92.17}]},"mark":{"type":"rule","color":"#f6c343","strokeWidth":3},
 "encoding":{"x2":{"field":"i2"},"y":{"field":"p","type":"quantitative","scale":{"domain":[91.884,93.3395],"nice":false,"zero":false},"axis":{"orient":"right","title":null,"format":".2f","values":[91.9,91.95,92,92.05,92.1,92.15,92.2,92.25,92.3,92.35,92.4,92.45,92.5,92.55,92.6,92.65,92.7,92.75,92.8,92.85,92.9,92.95,93,93.05,93.1,93.15,93.2,93.25,93.3]}}}},
{"data":{"values":[{"i":78,"p":91.915},{"i":148.5,"p":92.181}]},"mark":{"type":"line","color":"#33e033","strokeWidth":1,"clip":true},
 "encoding":{"y":{"field":"p","type":"quantitative","scale":{"domain":[91.884,93.3395],"nice":false,"zero":false},"axis":{"orient":"right","title":null,"format":".2f","values":[91.9,91.95,92,92.05,92.1,92.15,92.2,92.25,92.3,92.35,92.4,92.45,92.5,92.55,92.6,92.65,92.7,92.75,92.8,92.85,92.9,92.95,93,93.05,93.1,93.15,93.2,93.25,93.3]}}}},
{"data":{"values":[{"i":141.25,"i2":148.25,"p":92.170,"p2":92.155}]},"mark":{"type":"rect","color":"#ffffff"},
 "encoding":{"x2":{"field":"i2"},"y":{"field":"p","type":"quantitative","scale":{"domain":[91.884,93.3395],"nice":false,"zero":false},"axis":{"orient":"right","title":null,"format":".2f","values":[91.9,91.95,92,92.05,92.1,92.15,92.2,92.25,92.3,92.35,92.4,92.45,92.5,92.55,92.6,92.65,92.7,92.75,92.8,92.85,92.9,92.95,93,93.05,93.1,93.15,93.2,93.25,93.3]}},"y2":{"field":"p2"}}},
{"data":{"values":[{"i":141.5,"p":92.1635,"t":"92.17"}]},"mark":{"type":"text","align":"left","baseline":"middle","font":"Liberation Sans","fontSize":11,"color":"#f6c343","clip":false},
 "encoding":{"y":{"field":"p","type":"quantitative","scale":{"domain":[91.884,93.3395],"nice":false,"zero":false},"axis":{"orient":"right","title":null,"format":".2f","values":[91.9,91.95,92,92.05,92.1,92.15,92.2,92.25,92.3,92.35,92.4,92.45,92.5,92.55,92.6,92.65,92.7,92.75,92.8,92.85,92.9,92.95,93,93.05,93.1,93.15,93.2,93.25,93.3]}},"text":{"field":"t"}}},
{"data":{"values":[{"i":-1.25}]},"mark":{"type":"rule","color":"#000000","strokeWidth":3},"encoding":{}},
{"data":{"values":[{"i":-1.25,"i2":23.75,"p":93.3395,"p2":93.3146}]},"mark":{"type":"rect","color":"#ffff00"},
 "encoding":{"x2":{"field":"i2"},"y":{"field":"p","type":"quantitative","scale":{"domain":[91.884,93.3395],"nice":false,"zero":false},"axis":{"orient":"right","title":null,"format":".2f","values":[91.9,91.95,92,92.05,92.1,92.15,92.2,92.25,92.3,92.35,92.4,92.45,92.5,92.55,92.6,92.65,92.7,92.75,92.8,92.85,92.9,92.95,93,93.05,93.1,93.15,93.2,93.25,93.3]}},"y2":{"field":"p2"}}},
{"data":{"values":[{"i":0.75,"p":93.327,"t":"Trade: 1@93.13"},{"i":24.75,"p":93.327,"t":"CLK3-NYMEX"},{"i":46.5,"p":93.327,"t":"5 min"},{"i":57.75,"p":93.327,"t":"#5 T:996"},{"i":89,"p":93.327,"t":"2013-04-05 13:48:18"},{"i":120.75,"p":93.327,"t":"Volume Weighted Average"}]},
 "mark":{"type":"text","align":"left","baseline":"middle","font":"DejaVu Sans","fontSize":11,"color":"#000000","clip":true},
 "encoding":{"y":{"field":"p","type":"quantitative","scale":{"domain":[91.884,93.3395],"nice":false,"zero":false},"axis":{"orient":"right","title":null,"format":".2f","values":[91.9,91.95,92,92.05,92.1,92.15,92.2,92.25,92.3,92.35,92.4,92.45,92.5,92.55,92.6,92.65,92.7,92.75,92.8,92.85,92.9,92.95,93,93.05,93.1,93.15,93.2,93.25,93.3]}},"text":{"field":"t"}}},
{"data":{"values":[{"i":71,"p":93.327,"t":"DChg: -0.64"}]},
 "mark":{"type":"text","align":"left","baseline":"middle","font":"DejaVu Sans","fontSize":11,"color":"#ff0000"},
 "encoding":{"y":{"field":"p","type":"quantitative","scale":{"domain":[91.884,93.3395],"nice":false,"zero":false},"axis":{"orient":"right","title":null,"format":".2f","values":[91.9,91.95,92,92.05,92.1,92.15,92.2,92.25,92.3,92.35,92.4,92.45,92.5,92.55,92.6,92.65,92.7,92.75,92.8,92.85,92.9,92.95,93,93.05,93.1,93.15,93.2,93.25,93.3]}},"text":{"field":"t"}}},
{"data":{"values":[{"i":-0.75,"p":91.897,"t":"www.sierrachart.com"}]},
 "mark":{"type":"text","align":"left","baseline":"middle","font":"DejaVu Sans","fontSize":11,"color":"#000000"},
 "encoding":{"y":{"field":"p","type":"quantitative","scale":{"domain":[91.884,93.3395],"nice":false,"zero":false},"axis":{"orient":"right","title":null,"format":".2f","values":[91.9,91.95,92,92.05,92.1,92.15,92.2,92.25,92.3,92.35,92.4,92.45,92.5,92.55,92.6,92.65,92.7,92.75,92.8,92.85,92.9,92.95,93,93.05,93.1,93.15,93.2,93.25,93.3]}},"text":{"field":"t"}}},
{"data":{"values":[{"i":149,"i2":158,"p":92.6352,"p2":92.6103}]},"mark":{"type":"rect","color":"#1414a0","clip":false},
 "encoding":{"x2":{"field":"i2"},"y":{"field":"p","type":"quantitative","scale":{"domain":[91.884,93.3395],"nice":false,"zero":false},"axis":{"orient":"right","title":null,"format":".2f","values":[91.9,91.95,92,92.05,92.1,92.15,92.2,92.25,92.3,92.35,92.4,92.45,92.5,92.55,92.6,92.65,92.7,92.75,92.8,92.85,92.9,92.95,93,93.05,93.1,93.15,93.2,93.25,93.3]}},"y2":{"field":"p2"}}},
{"data":{"values":[{"i":149.5,"p":92.6225,"t":"92.62"}]},"mark":{"type":"text","align":"left","baseline":"middle","font":"Liberation Sans","fontSize":12,"color":"#ffffff","clip":false},
 "encoding":{"y":{"field":"p","type":"quantitative","scale":{"domain":[91.884,93.3395],"nice":false,"zero":false},"axis":{"orient":"right","title":null,"format":".2f","values":[91.9,91.95,92,92.05,92.1,92.15,92.2,92.25,92.3,92.35,92.4,92.45,92.5,92.55,92.6,92.65,92.7,92.75,92.8,92.85,92.9,92.95,93,93.05,93.1,93.15,93.2,93.25,93.3]}},"text":{"field":"t"}}},
{"data":{"values":[{"i":152.25,"i2":158.75,"p":91.8796,"p2":91.8532}]},"mark":{"type":"rect","color":"#00b800","clip":false},
 "encoding":{"x2":{"field":"i2"},"y":{"field":"p","type":"quantitative","scale":{"domain":[91.884,93.3395],"nice":false,"zero":false},"axis":{"orient":"right","title":null,"format":".2f","values":[91.9,91.95,92,92.05,92.1,92.15,92.2,92.25,92.3,92.35,92.4,92.45,92.5,92.55,92.6,92.65,92.7,92.75,92.8,92.85,92.9,92.95,93,93.05,93.1,93.15,93.2,93.25,93.3]}},"y2":{"field":"p2"}}},
{"data":{"values":[{"i":155.5,"p":91.8664,"t":"3 L"}]},"mark":{"type":"text","align":"center","baseline":"middle","font":"Liberation Sans","fontSize":12,"color":"#000000","clip":false},
 "encoding":{"y":{"field":"p","type":"quantitative","scale":{"domain":[91.884,93.3395],"nice":false,"zero":false},"axis":{"orient":"right","title":null,"format":".2f","values":[91.9,91.95,92,92.05,92.1,92.15,92.2,92.25,92.3,92.35,92.4,92.45,92.5,92.55,92.6,92.65,92.7,92.75,92.8,92.85,92.9,92.95,93,93.05,93.1,93.15,93.2,93.25,93.3]}},"text":{"field":"t"}}}
]
}
